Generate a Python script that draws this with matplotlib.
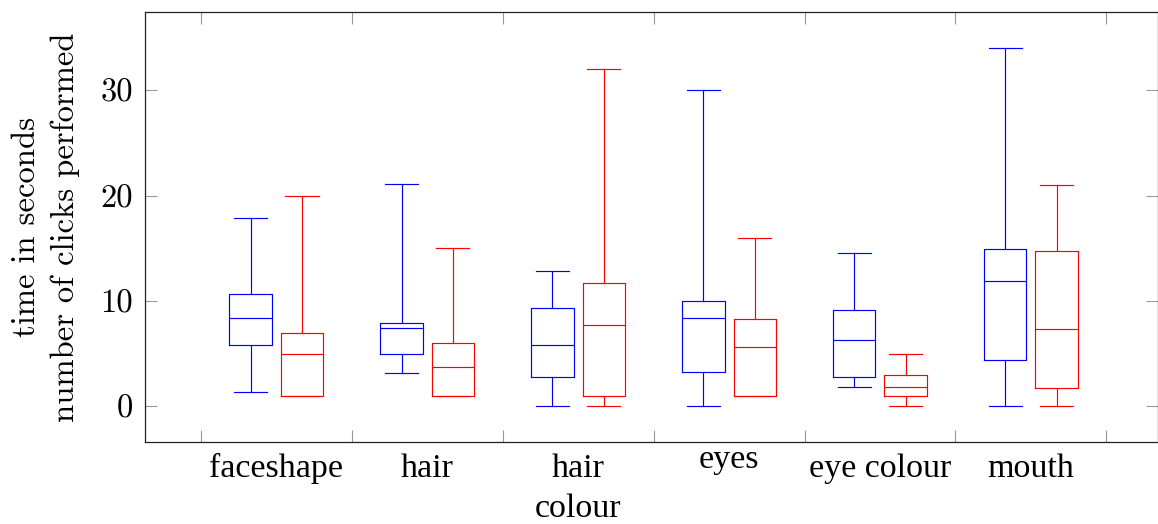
import matplotlib
matplotlib.use("Agg")
import matplotlib.pyplot as plt
from matplotlib.transforms import blended_transform_factory, ScaledTranslation

# ---- data -------------------------------------------------------------------
categories = ["faceshape", "hair", "hair\ncolour", "eyes", "eye colour", "mouth"]

# time in seconds (blue): lower whisker, q1, median, q3, upper whisker
time_lo  = [1.4, 3.2, 0.0, 0.0, 1.8, 0.0]
time_q1  = [5.8, 5.0, 2.8, 3.3, 2.8, 4.4]
time_med = [8.4, 7.4, 5.8, 8.4, 6.3, 11.85]
time_q3  = [10.7, 7.9, 9.3, 10.0, 9.1, 14.9]
time_hi  = [17.9, 21.1, 12.8, 30.0, 14.6, 34.0]

# number of clicks performed (red)
click_lo  = [1.0, 1.0, 0.0, 1.0, 0.0, 0.0]
click_q1  = [1.0, 1.0, 1.0, 1.0, 1.0, 1.75]
click_med = [5.0, 3.7, 7.7, 5.6, 1.85, 7.35]
click_q3  = [7.0, 6.0, 11.75, 8.25, 3.0, 14.75]
click_hi  = [20.0, 15.0, 32.0, 16.0, 5.0, 21.0]

yticks = [0, 10, 20, 30]
# -----------------------------------------------------------------------------


def stats(lo, q1, med, q3, hi):
    return [dict(whislo=a, q1=b, med=c, q3=d, whishi=e, fliers=[])
            for a, b, c, d, e in zip(lo, q1, med, q3, hi)]


fig = plt.figure(figsize=(11.58, 5.24), dpi=100)
ax = fig.add_axes([0.1252, 0.1559, 0.8745, 0.8218])

n = len(categories)
centers = [i + 1 for i in range(n)]
OFF, BW, CW = 0.17, 0.28, 0.22

for data, sign, col in [((time_lo, time_q1, time_med, time_q3, time_hi), -1, "#0000ff"),
                        ((click_lo, click_q1, click_med, click_q3, click_hi), 1, "#ff0000")]:
    lp = dict(color=col, linewidth=0.85)
    ax.bxp(stats(*data), positions=[c + sign * OFF for c in centers],
           widths=BW, capwidths=CW, showfliers=False,
           boxprops=lp, whiskerprops=lp, capprops=lp, medianprops=lp,
           manage_ticks=False)

ax.set_xlim(0.13, 6.84)
ax.set_ylim(-3.42, 37.47)

# frame + inward grey ticks on all sides
for sp in ax.spines.values():
    sp.set_color("#222222")
    sp.set_linewidth(0.9)
ax.set_xticks([])
ax.set_xticks([c + 0.5 for c in range(n + 1)], minor=True)
ax.set_yticks(yticks)
ax.tick_params(axis="both", which="both", direction="in", length=8.4,
               width=0.8, color="#999999", top=True, right=True)
ax.tick_params(axis="x", which="minor", labelbottom=False)
ax.tick_params(axis="y", pad=8.6, labelsize=23.5)
for lab in ax.get_yticklabels():
    lab.set_fontfamily("cmr10")

# category labels, anchored by their text top like the original layout
trans = blended_transform_factory(ax.transData, ax.transAxes)
for c, name in zip(centers, categories):
    for j, line in enumerate(name.split("\n")):
        drop = 24.8 + 29.0 * j
        if not any(ch in "bdfhklt" for ch in line):
            drop -= 6.0
        t = trans + ScaledTranslation(0, -drop / 72, fig.dpi_scale_trans)
        ax.text(c, 0, line, transform=t, ha="center", va="baseline",
                fontsize=24.5, family="Liberation Serif")

fig.text(0.0393, 0.1559 + 0.8218 / 2,
         "time in seconds\nnumber of clicks performed",
         rotation=90, ha="center", va="center", multialignment="center",
         fontsize=23.5, family="cmr10", linespacing=1.4)

fig.savefig("out.png", dpi=100)
